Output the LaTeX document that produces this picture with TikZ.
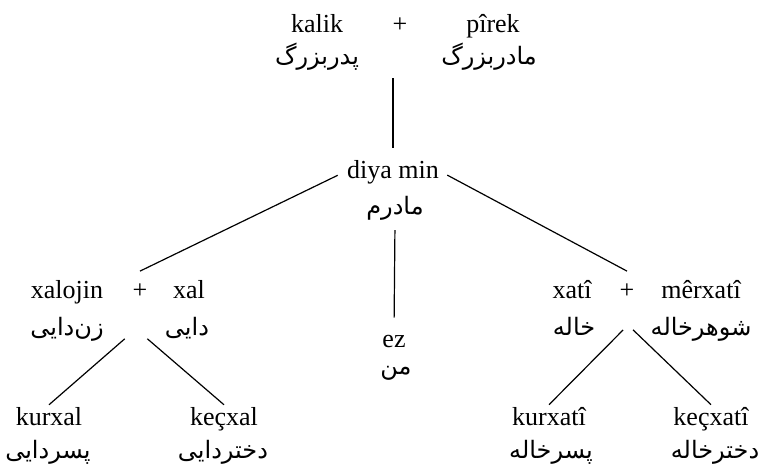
\documentclass[tikz,border=0pt]{standalone}
\usepackage{fontspec}
\setmainfont{Liberation Serif}
\newfontfamily\fafont[Script=Arabic]{DejaVu Sans}
\TeXXeTstate=1
\newcommand{\fatext}[1]{{\fafont\beginR #1\endR}}
\tikzset{
  word/.style={anchor=base,inner sep=2pt,font=\fontsize{26}{30}\selectfont},
  faword/.style={anchor=base,inner sep=2pt,font=\fontsize{24}{28}\selectfont},
  link/.style={line width=1.2pt}
}

\begin{document}
\begin{tikzpicture}[x=1pt,y=-1pt]
	\useasboundingbox (0,0) rectangle (761,475);
	% grandparents
	\node[word] (kalik) at (317,32) {kalik};
	\node[word] (plusA) at (400,32) {+};
	\node[word] (pirek) at (493,32) {pîrek};
	\node[faword] (kalikFa) at (317,64) {\fatext{پدربزرگ}};
	\node[faword] (pirekFa) at (489,64) {\fatext{مادربزرگ}};
	% mother and me
	\node[word] (diya) at (393,178) {diya min};
	\node[faword] (diyaFa) at (395,214) {\fatext{مادرم}};
	\node[word] (ez) at (394,347) {ez};
	\node[faword] (ezFa) at (396,374) {\fatext{من}};
	% left couple
	\node[word] (xalojin) at (67,298) {xalojin};
	\node[word] (plusB) at (140,298) {+};
	\node[word] (xal) at (189,298) {xal};
	\node[faword] (xalojinFa) at (67,335) {\fatext{زن‌دایی}};
	\node[faword] (xalFa) at (187,335) {\fatext{دایی}};
	% right couple
	\node[word] (xati) at (572,298) {xatî};
	\node[word] (plusC) at (627,298) {+};
	\node[word] (merxati) at (701,298) {mêrxatî};
	\node[faword] (xatiFa) at (574,335) {\fatext{خاله}};
	\node[faword] (merxatiFa) at (701,335) {\fatext{شوهرخاله}};
	% cousins
	\node[word] (kurxal) at (49,425) {kurxal};
	\node[word] (kecxal) at (224,425) {keçxal};
	\node[word] (kurxati) at (549,425) {kurxatî};
	\node[word] (kecxati) at (711,425) {keçxatî};
	\node[faword] (kurxalFa) at (48,458) {\fatext{پسردایی}};
	\node[faword] (kecxalFa) at (223,458) {\fatext{دختردایی}};
	\node[faword] (kurxatiFa) at (551,458) {\fatext{پسرخاله}};
	\node[faword] (kecxatiFa) at (715,458) {\fatext{دخترخاله}};
	% forks
	\coordinate (forkB) at (136,329);
	\coordinate (forkC) at (628,325);
	\draw[link,shorten <=6pt,shorten >=10pt] (diya.north |- kalikFa.south) -- (diya.north);
	\draw[link,shorten <=8pt] (diya.west) -- ([yshift=10pt]plusB.north);
	\draw[link,shorten <=7pt] (diya.east) -- ([yshift=10pt]plusC.north);
	\draw[link,shorten <=8pt,shorten >=15pt] (diyaFa.south) -- (ez.north);
	\draw[link,shorten <=15pt] (forkB) -- (kurxal.north);
	\draw[link,shorten <=15pt] (forkB) -- (kecxal.north);
	\draw[link,shorten <=7pt] (forkC) -- (kurxati.north);
	\draw[link,shorten <=7pt] (forkC) -- (kecxati.north);
\end{tikzpicture}
\end{document}
